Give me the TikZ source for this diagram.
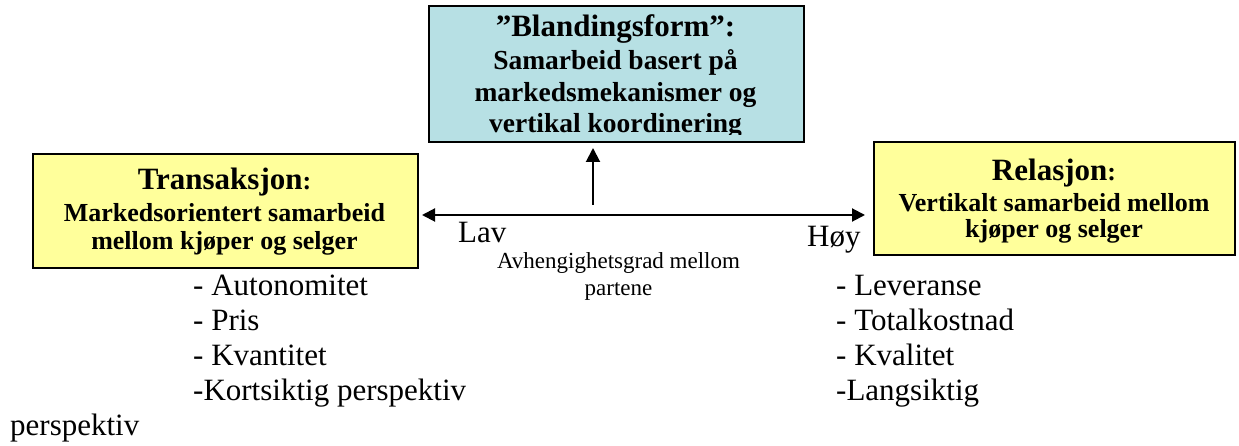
\documentclass[tikz,border=0pt]{standalone}
\usepackage{fontspec}
\setmainfont{Liberation Serif}
\usetikzlibrary{arrows.meta}
\definecolor{cyanfill}{RGB}{183,224,228}
\definecolor{yelfill}{RGB}{255,255,155}
\begin{document}
\begin{tikzpicture}[x=1pt,y=-1pt,
  boxframe/.style={draw=black,line width=2pt,inner sep=0pt,anchor=north west},
  txt/.style={anchor=base,inner sep=0pt},
  titlefont/.style={font=\fontsize{31}{35}\selectfont\bfseries},
  subfont/.style={font=\fontsize{26}{30}\selectfont\bfseries},
  topsub/.style={font=\fontsize{27.5}{32}\selectfont\bfseries},
  listfont/.style={anchor=base west,inner sep=0pt,font=\fontsize{31}{35}\selectfont},
  smallfont/.style={anchor=base,inner sep=0pt,font=\fontsize{23}{27}\selectfont},
  arr/.style={line width=2pt,-{Triangle[length=14pt,width=14pt]}},
  darr/.style={line width=2pt,{Triangle[length=13pt,width=13pt]}-{Triangle[length=13pt,width=13pt]}}]
\useasboundingbox (0,0) rectangle (1239,446);
% boxes
\node[boxframe,fill=cyanfill,minimum width=375pt,minimum height=136pt] (top) at (428,5) {};
\node[boxframe,fill=yelfill,minimum width=385pt,minimum height=114pt] (left) at (32,153) {};
\node[boxframe,fill=yelfill,minimum width=361pt,minimum height=113pt] (right) at (873,141) {};
% top box text (clipped near the box bottom)
\begin{scope}
\clip (top.north west) rectangle (803,134.5);
\node[txt,titlefont] (t1) at (615.5,37) {”Blandingsform”:};
\node[txt,topsub] (t2) at (615.5,70) {Samarbeid basert på};
\node[txt,topsub] (t3) at (615.5,102) {markedsmekanismer og};
\node[txt,topsub] (t4) at (615.5,133) {vertikal koordinering};
\end{scope}
% left box text
\node[txt,titlefont] (l1) at (224.5,190) {Transaksjon\fontsize{26}{30}\selectfont:};
\node[txt,subfont] (l2) at (224.5,222) {Markedsorientert samarbeid};
\node[txt,subfont] (l3) at (224.5,250) {mellom kjøper og selger};
% right box text
\node[txt,titlefont] (r1) at (1054,181) {Relasjon\fontsize{26}{30}\selectfont:};
\node[txt,subfont] (r2) at (1054,212) {Vertikalt samarbeid mellom};
\node[txt,subfont] (r3) at (1054,238) {kjøper og selger};
% connectors
\coordinate (hl) at (422,215);
\coordinate (hr) at (865,215);
\coordinate (vs) at (593,205);
\draw[darr] (hl) -- (hr);
\draw[arr,shorten >=5pt] (vs) -- (vs |- top.south);
% axis labels
\node[listfont] (lav) at (458,243) {Lav};
\node[listfont] (hoy) at (807,247) {Høy};
\node[smallfont] (av1) at (618.5,269) {Avhengighetsgrad mellom};
\node[smallfont] (av2) at (618.5,295) {partene};
% lists
\node[listfont] (a1) at (193,295) {- Autonomitet};
\node[listfont] (a2) at (193,330) {- Pris};
\node[listfont] (a3) at (193,365) {- Kvantitet};
\node[listfont] (a4) at (193,400) {-Kortsiktig perspektiv};
\node[listfont] (a5) at (10,435) {perspektiv};
\node[listfont] (b1) at (836,295) {- Leveranse};
\node[listfont] (b2) at (836,330) {- Totalkostnad};
\node[listfont] (b3) at (836,365) {- Kvalitet};
\node[listfont] (b4) at (836,400) {-Langsiktig};
\end{tikzpicture}
\end{document}
